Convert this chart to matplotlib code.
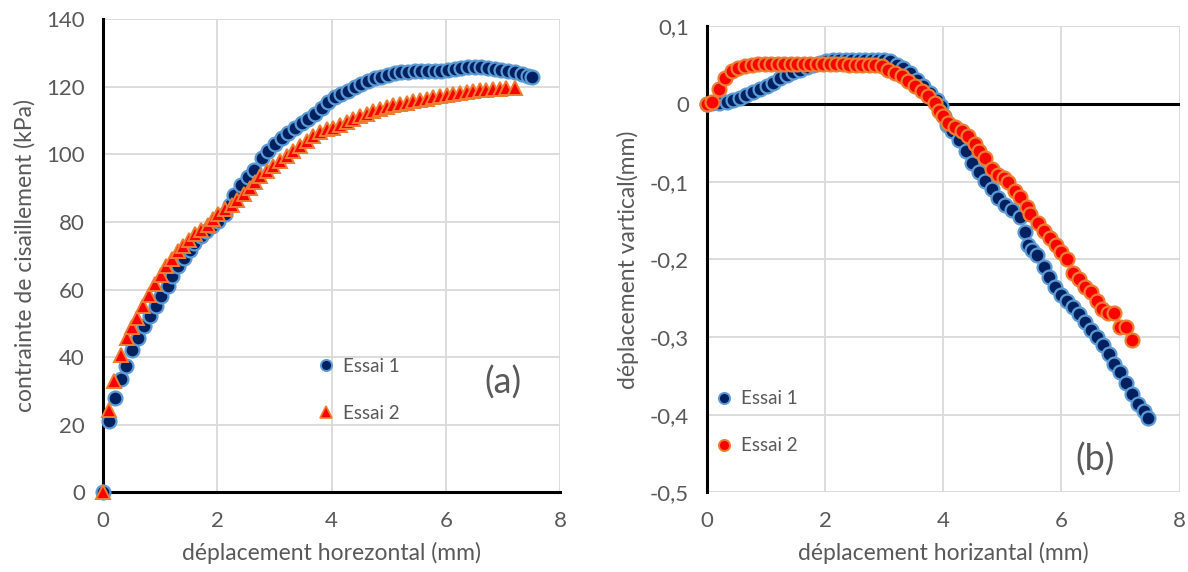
import matplotlib
matplotlib.use("Agg")
import matplotlib.pyplot as plt
from matplotlib.lines import Line2D

plt.rcParams["font.family"] = ["Lato", "DejaVu Sans"]

# (a) contrainte de cisaillement vs deplacement horizontal
a1_x = [0, 0.11, 0.21, 0.31, 0.40, 0.50, 0.61, 0.71, 0.82, 0.93, 1.02, 1.13, 1.21,
        1.31, 1.42, 1.52, 1.60, 1.71, 1.81, 1.91, 2.01, 2.13, 2.22, 2.30, 2.42, 2.53,
        2.64, 2.78, 2.89, 3.01, 3.13, 3.24, 3.36, 3.48, 3.59, 3.71, 3.83, 3.94, 4.06,
        4.17, 4.29, 4.41, 4.52, 4.64, 4.76, 4.87, 4.99, 5.10, 5.22, 5.34, 5.45, 5.57,
        5.69, 5.80, 5.92, 6.03, 6.15, 6.27, 6.38, 6.50, 6.62, 6.73, 6.85, 6.97, 7.08,
        7.20, 7.32, 7.43, 7.51]
a1_y = [0, 21, 28, 33.5, 37.5, 42, 45.6, 49.2, 52.2, 55.2, 58.1, 61, 64,
        66.9, 69.4, 71.8, 73.8, 75.8, 77.2, 78.7, 80.2, 82.2, 85.1, 88.0, 91, 93.4,
        95.4, 98.8, 101.0, 103.0, 104.7, 106.3, 107.7, 109.1, 110.5, 112.0, 113.7, 115.3, 116.8,
        117.9, 118.8, 119.8, 120.7, 121.7, 122.4, 122.9, 123.4, 123.9, 124.2, 124.4, 124.6, 124.7,
        124.7, 124.7, 124.7, 124.9, 125.1, 125.4, 125.7, 125.8, 125.7, 125.4, 125.2, 124.9, 124.7,
        124.2, 123.7, 123.1, 122.9]

a2_x = [0, 0.10, 0.19, 0.31, 0.42, 0.51, 0.60, 0.70, 0.80, 0.91, 1.02, 1.11, 1.21,
        1.32, 1.40, 1.50, 1.61, 1.71, 1.83, 1.93, 2.02, 2.14, 2.25, 2.35, 2.47, 2.57,
        2.65, 2.75, 2.87, 2.98, 3.10, 3.21, 3.33, 3.45, 3.56, 3.68, 3.80, 3.91, 4.03,
        4.14, 4.26, 4.38, 4.49, 4.61, 4.73, 4.84, 4.96, 5.08, 5.19, 5.31, 5.42, 5.54,
        5.66, 5.77, 5.89, 6.01, 6.12, 6.24, 6.36, 6.47, 6.59, 6.70, 6.82, 6.94, 7.05,
        7.20]
a2_y = [0, 24.4, 33, 40.5, 45.6, 48.8, 51.7, 55.1, 58.4, 61.5, 64.4, 66.9, 68.9,
        71.3, 72.8, 74.6, 76.3, 77.7, 79.2, 80.7, 82.2, 83.7, 85.1, 86.6, 88.1, 90,
        91.8, 93.5, 95.1, 96.6, 98.0, 99.5, 101.0, 102.5, 104.0, 105.5, 106.7, 107.3, 107.8,
        108.5, 109.5, 110.5, 111.2, 112.0, 112.8, 113.5, 113.9, 114.4, 114.9, 115.2, 115.6, 116.1,
        116.4, 116.9, 117.2, 117.6, 117.9, 118.2, 118.5, 118.7, 118.9, 119.1, 119.2, 119.4, 119.6,
        119.6]

# (b) deplacement vertical vs deplacement horizontal
b1_x = [0, 0.08, 0.20, 0.34, 0.45, 0.56, 0.67, 0.78, 0.90, 1.01, 1.12, 1.23, 1.35,
        1.46, 1.57, 1.69, 1.79, 1.91, 2.02, 2.13, 2.24, 2.35, 2.46, 2.57, 2.68, 2.79,
        2.90, 3.00, 3.10, 3.21, 3.32, 3.44, 3.56, 3.66, 3.78, 3.90, 3.97, 4.02, 4.07,
        4.15, 4.27, 4.39, 4.49, 4.60, 4.71, 4.83, 4.93, 5.05, 5.17, 5.29, 5.39, 5.44,
        5.50, 5.58, 5.70, 5.79, 5.89, 5.99, 6.09, 6.19, 6.30, 6.40, 6.50, 6.60, 6.70,
        6.80, 6.89, 6.99, 7.10, 7.19, 7.29, 7.39, 7.46]
b1_y = [0, 0.001, 0.001, 0.002, 0.005, 0.008, 0.012, 0.015, 0.019, 0.023, 0.027, 0.033, 0.037,
        0.041, 0.044, 0.048, 0.050, 0.053, 0.055, 0.056, 0.056, 0.056, 0.056, 0.056, 0.056, 0.056,
        0.056, 0.056, 0.055, 0.050, 0.046, 0.040, 0.031, 0.023, 0.014, 0.005, -0.003, -0.016, -0.027,
        -0.035, -0.046, -0.060, -0.076, -0.088, -0.099, -0.110, -0.121, -0.130, -0.137, -0.146, -0.165, -0.182,
        -0.188, -0.194, -0.210, -0.223, -0.236, -0.246, -0.253, -0.261, -0.270, -0.280, -0.291, -0.300, -0.310,
        -0.322, -0.334, -0.345, -0.359, -0.373, -0.386, -0.395, -0.404]

b2_x = [0, 0.08, 0.20, 0.30, 0.42, 0.53, 0.64, 0.76, 0.87, 0.98, 1.09, 1.20, 1.31,
        1.42, 1.53, 1.64, 1.75, 1.86, 1.97, 2.08, 2.19, 2.30, 2.41, 2.52, 2.63, 2.74,
        2.85, 2.96, 3.06, 3.18, 3.30, 3.40, 3.52, 3.64, 3.74, 3.86, 3.92, 4.00, 4.08,
        4.20, 4.32, 4.41, 4.53, 4.61, 4.71, 4.83, 4.92, 5.02, 5.10, 5.22, 5.30, 5.42,
        5.47, 5.60, 5.70, 5.80, 5.90, 6.00, 6.10, 6.20, 6.30, 6.40, 6.50, 6.60, 6.68,
        6.79, 6.89, 6.99, 7.09, 7.19]
b2_y = [0, 0.002, 0.019, 0.033, 0.042, 0.046, 0.049, 0.050, 0.052, 0.051, 0.051, 0.051, 0.051,
        0.051, 0.051, 0.051, 0.051, 0.051, 0.051, 0.051, 0.051, 0.051, 0.050, 0.050, 0.050, 0.050,
        0.050, 0.049, 0.044, 0.040, 0.036, 0.029, 0.023, 0.017, 0.010, 0.001, -0.009, -0.016, -0.024,
        -0.030, -0.035, -0.041, -0.052, -0.060, -0.069, -0.084, -0.091, -0.095, -0.101, -0.112, -0.120, -0.133,
        -0.142, -0.153, -0.163, -0.172, -0.181, -0.190, -0.200, -0.218, -0.225, -0.236, -0.242, -0.253, -0.264,
        -0.269, -0.269, -0.287, -0.287, -0.304]

TXT = "#595959"
GRID = "#d9d9d9"
BLUE_FILL, BLUE_EDGE = "#002060", "#5b9bd5"
RED_FILL, RED_EDGE = "#ff0000", "#ed7d31"

fig = plt.figure(figsize=(11.88, 5.72), dpi=100)
ax1 = fig.add_axes([0.0867, 0.139, 0.385, 0.828])
ax2 = fig.add_axes([0.595, 0.139, 0.398, 0.815])


def style_axes(ax):
    for s in ["top", "right"]:
        ax.spines[s].set_visible(False)
    ax.grid(True, color=GRID, linewidth=1.3, zorder=0)
    ax.set_axisbelow(True)
    ax.tick_params(length=0, labelsize=16, labelcolor=TXT, pad=13)
    ax.spines["left"].set_linewidth(2.2)
    ax.spines["left"].set_color("black")
    ax.spines["left"].set_zorder(2)


# --- (a)
style_axes(ax1)
ax1.spines["bottom"].set_linewidth(2.2)
ax1.spines["bottom"].set_color("black")
ax1.plot(a1_x, a1_y, "o", ms=10, mfc=BLUE_FILL, mec=BLUE_EDGE, mew=1.6,
         zorder=3, clip_on=False)
ax1.plot(a2_x, a2_y, "^", ms=10.5, mfc=RED_FILL, mec=RED_EDGE, mew=1.4,
         zorder=4, clip_on=False)
ax1.set_xlim(0, 8)
ax1.set_ylim(0, 140)
ax1.set_xticks([0, 2, 4, 6, 8])
ax1.set_yticks(range(0, 141, 20))
ax1.set_xlabel("déplacement horezontal (mm)", fontsize=16.5, color=TXT, labelpad=8)
ax1.set_ylabel("contrainte de cisaillement (kPa)", fontsize=16.5, color=TXT, labelpad=8)
ax1.text(6.99, 32.4, "(a)", fontsize=26, color=TXT, ha="center", va="center")

h1 = Line2D([], [], ls="", marker="o", ms=8, mfc=BLUE_FILL, mec=BLUE_EDGE, mew=1.4)
h2 = Line2D([], [], ls="", marker="^", ms=9, mfc=RED_FILL, mec=RED_EDGE, mew=1.2)
ax1.legend([h1, h2], ["Essai 1", "Essai 2"], loc="center left",
           bbox_to_anchor=(0.45, 0.217), frameon=False, fontsize=13.5,
           labelcolor=TXT, handlelength=1.0, handletextpad=0.4,
           labelspacing=1.6, borderaxespad=0)

# --- (b)
style_axes(ax2)
ax2.spines["bottom"].set_visible(False)
ax2.axhline(0, color="black", linewidth=2.2, zorder=2)
ax2.plot(b1_x, b1_y, "o", ms=10, mfc=BLUE_FILL, mec=BLUE_EDGE, mew=1.6,
         zorder=3, clip_on=False)
ax2.plot(b2_x, b2_y, "o", ms=10, mfc=RED_FILL, mec=RED_EDGE, mew=1.6,
         zorder=4, clip_on=False)
ax2.set_xlim(0, 8)
ax2.set_ylim(-0.5, 0.1)
ax2.set_xticks([0, 2, 4, 6, 8])
ax2.set_yticks([-0.5, -0.4, -0.3, -0.2, -0.1, 0, 0.1])
ax2.set_yticklabels(["-0,5", "-0,4", "-0,3", "-0,2", "-0,1", "0", "0,1"])
ax2.set_xlabel("déplacement horizantal (mm)", fontsize=16.5, color=TXT, labelpad=8)
ax2.set_ylabel("déplacement vartical(mm)", fontsize=16.5, color=TXT, labelpad=8)
ax2.text(6.56, -0.458, "(b)", fontsize=26, color=TXT, ha="center", va="center")

h3 = Line2D([], [], ls="", marker="o", ms=8, mfc=BLUE_FILL, mec=BLUE_EDGE, mew=1.4)
h4 = Line2D([], [], ls="", marker="o", ms=8, mfc=RED_FILL, mec=RED_EDGE, mew=1.4)
ax2.legend([h3, h4], ["Essai 1", "Essai 2"], loc="center left",
           bbox_to_anchor=(0.0, 0.151), frameon=False, fontsize=13.5,
           labelcolor=TXT, handlelength=1.0, handletextpad=0.4,
           labelspacing=1.6, borderaxespad=0)

fig.savefig("out.png", dpi=100)
